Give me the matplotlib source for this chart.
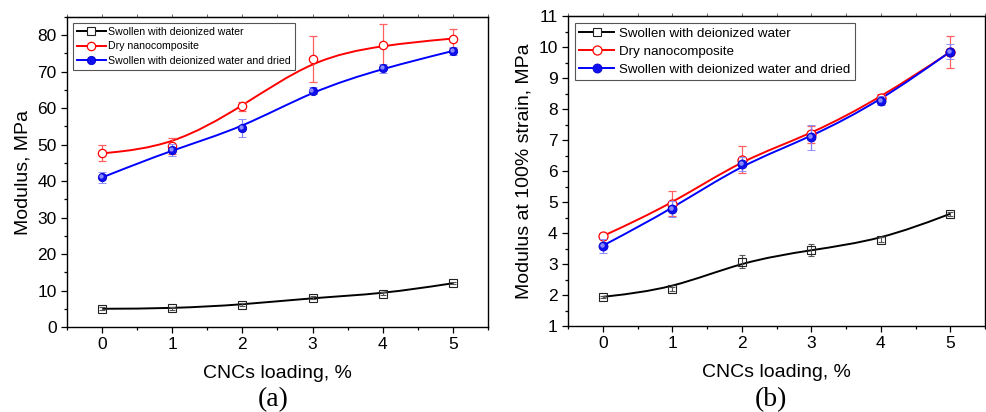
import numpy as np
import matplotlib
matplotlib.use('Agg')
import matplotlib.pyplot as plt
from matplotlib.path import Path
from matplotlib.patches import PathPatch
from matplotlib.lines import Line2D
from matplotlib.ticker import MultipleLocator
from matplotlib.transforms import offset_copy

plt.rcParams['font.family'] = ['Liberation Sans', 'DejaVu Sans']

# CNC loading, %
loading = [0, 1, 2, 3, 4, 5]

# (a) Modulus, MPa
mod_swollen = [5.0, 5.1, 6.1, 8.0, 9.1, 12.0]
mod_swollen_err = [0.4, 0.4, 0.4, 0.4, 0.4, 0.3]
mod_dry = [47.6, 49.6, 60.5, 73.5, 77.3, 79.1]
mod_dry_err = [2.2, 2.2, 1.3, 6.3, 5.8, 2.6]
mod_dried = [41.0, 48.6, 54.6, 64.8, 70.9, 75.7]
mod_dried_err = [1.5, 1.7, 2.4, 0.9, 1.2, 1.0]

# (b) Modulus at 100% strain, MPa
m100_swollen = [1.94, 2.20, 3.08, 3.45, 3.78, 4.62]
m100_swollen_err = [0.04, 0.07, 0.2, 0.2, 0.08, 0.06]
m100_dry = [3.90, 4.94, 6.37, 7.18, 8.37, 9.84]
m100_dry_err = [0.1, 0.4, 0.44, 0.28, 0.12, 0.53]
m100_dried = [3.59, 4.78, 6.22, 7.09, 8.27, 9.85]
m100_dried_err = [0.22, 0.25, 0.22, 0.4, 0.15, 0.25]

series_labels = ['Swollen with deionized water',
                 'Dry nanocomposite',
                 'Swollen with deionized water and dried']


def bspline(ax, x, y, color, lw=1.4):
    # uniform cubic B-spline with the data as control points, clamped at ends
    pts = np.column_stack([x, y]).astype(float)
    pts = np.vstack([pts[:1], pts[:1], pts, pts[-1:], pts[-1:]])
    verts = [tuple(pts[0])]
    codes = [Path.MOVETO]
    for i in range(len(pts) - 3):
        p0, p1, p2, p3 = pts[i:i + 4]
        verts += [tuple((2 * p1 + p2) / 3), tuple((p1 + 2 * p2) / 3),
                  tuple((p1 + 4 * p2 + p3) / 6)]
        codes += [Path.CURVE4] * 3
    ax.add_patch(PathPatch(Path(verts, codes), fill=False, edgecolor=color,
                           lw=lw, zorder=2))


def draw_panel(ax, data, ms, legend_fs, handle_len, label_sp, text_pad, axes_pad):
    (sw, sw_e), (dry, dry_e), (dr, dr_e) = data
    bspline(ax, loading, sw, 'black')
    bspline(ax, loading, dry, 'red')
    bspline(ax, loading, dr, 'blue')

    ax.errorbar(loading, dry, yerr=dry_e, fmt='o', ms=ms, mfc='white', mec='red',
                mew=0.9, ecolor='#ff6060', elinewidth=0.9, capsize=3, capthick=0.9,
                zorder=3)
    ax.errorbar(loading, dr, yerr=dr_e, fmt='o', ms=ms, mfc='#1010ee', mec='#0000cc',
                mew=0.6, ecolor='#8080ff', elinewidth=0.9, capsize=3, capthick=0.9,
                zorder=4)
    # highlight on the blue balls
    hl = offset_copy(ax.transData, fig=ax.figure, x=-0.8, y=0.8, units='points')
    ax.plot(loading, dr, 'o', ms=ms * 0.35, color='#9c9cff', transform=hl,
            zorder=5, alpha=0.8)
    ax.errorbar(loading, sw, yerr=sw_e, fmt='s', ms=ms - 0.5, mfc='none', mec='#222222',
                mew=0.8, ecolor='#555555', elinewidth=0.8, capsize=2.5, capthick=0.8,
                zorder=3)

    ax.set_xlim(-0.5, 5.5)
    ax.xaxis.set_major_locator(MultipleLocator(1))
    ax.xaxis.set_minor_locator(MultipleLocator(0.5))
    ax.tick_params(which='both', direction='out', labelsize=12.5, width=0.9)
    ax.tick_params(which='major', length=4)
    ax.tick_params(which='minor', length=2.5)
    # small ticks along the top edge
    top = ax.secondary_xaxis('top')
    top.xaxis.set_major_locator(MultipleLocator(1))
    top.xaxis.set_minor_locator(MultipleLocator(0.5))
    top.tick_params(which='both', direction='out', length=2, width=0.6,
                    color='#555555', labeltop=False)
    for s in ax.spines.values():
        s.set_linewidth(1.0)
    ax.set_xlabel('CNCs loading, %', fontsize=14, labelpad=9)

    handles = [
        Line2D([], [], color='black', lw=1.4, marker='s', ms=ms - 0.5, mfc='white',
               mec='#222222', mew=0.8),
        Line2D([], [], color='red', lw=1.4, marker='o', ms=ms, mfc='white',
               mec='red', mew=0.9),
        Line2D([], [], color='blue', lw=1.4, marker='o', ms=ms, mfc='#1010ee',
               mec='#0000cc', mew=0.6),
    ]
    leg = ax.legend(handles, series_labels, loc='upper left', fontsize=legend_fs,
                    handlelength=handle_len, handletextpad=text_pad, borderpad=0.35,
                    labelspacing=label_sp, fancybox=False, framealpha=1,
                    edgecolor='#555555', borderaxespad=axes_pad)
    leg.get_frame().set_linewidth(0.8)


fig = plt.figure(figsize=(9.87, 4.12), dpi=100)
ax1 = fig.add_axes([0.0679, 0.2063, 0.4265, 0.7524])
ax2 = fig.add_axes([0.5755, 0.2087, 0.4225, 0.7524])

draw_panel(ax1, [(mod_swollen, mod_swollen_err), (mod_dry, mod_dry_err),
                 (mod_dried, mod_dried_err)], ms=6, legend_fs=7.6, handle_len=2.75,
           label_sp=0.45, text_pad=0.25, axes_pad=0.55)
ax1.set_ylim(0, 85)
ax1.yaxis.set_major_locator(MultipleLocator(10))
ax1.yaxis.set_minor_locator(MultipleLocator(5))
ax1.set_ylabel('Modulus, MPa', fontsize=14, labelpad=4)

draw_panel(ax2, [(m100_swollen, m100_swollen_err), (m100_dry, m100_dry_err),
                 (m100_dried, m100_dried_err)], ms=6.5, legend_fs=9.6, handle_len=2.6,
           label_sp=0.42, text_pad=0.35, axes_pad=0.5)
ax2.set_ylim(1, 11)
ax2.yaxis.set_major_locator(MultipleLocator(1))
ax2.yaxis.set_minor_locator(MultipleLocator(0.5))
ax2.set_ylabel('Modulus at 100% strain, MPa', fontsize=14, labelpad=4)

fig.text(0.2763, 0.0, '(a)', fontsize=20, family='Liberation Serif', ha='center',
         va='bottom')
fig.text(0.781, 0.0, '(b)', fontsize=20, family='Liberation Serif', ha='center',
         va='bottom')

fig.savefig('out.png', dpi=100)
